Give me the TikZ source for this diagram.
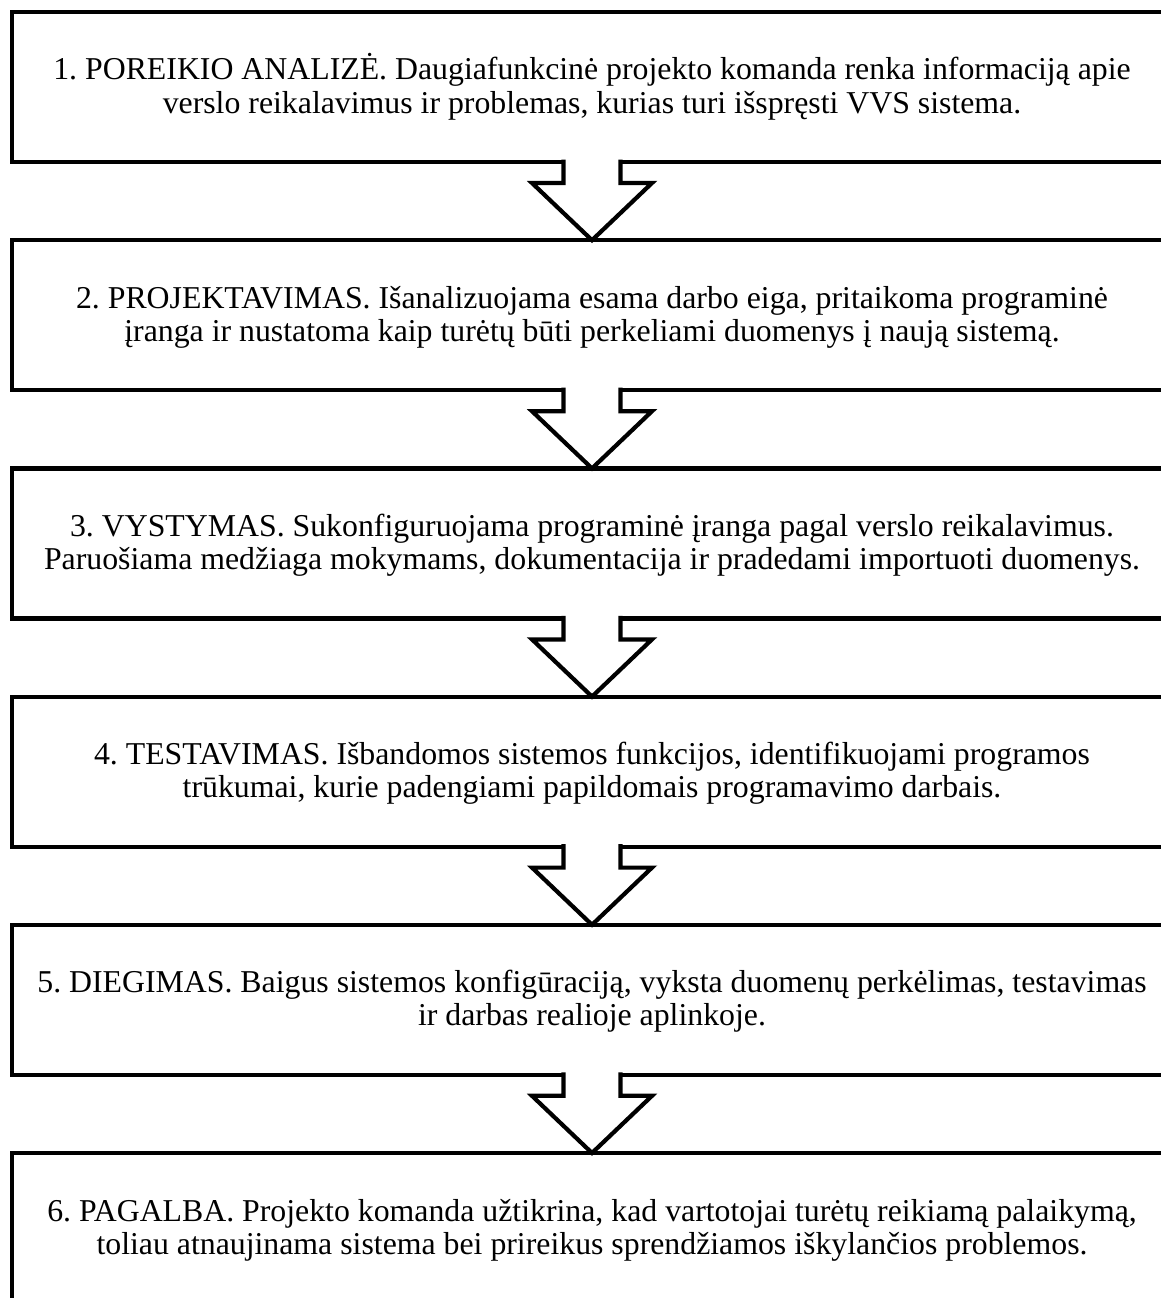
\documentclass[tikz,border=0pt]{standalone}
\usepackage{fontspec}
\setmainfont{Liberation Serif}
\usetikzlibrary{calc}
\frenchspacing
\begin{document}
\begin{tikzpicture}[x=1pt,y=-1pt,
  stage/.style={draw, line width=4.2pt, minimum width=1160pt, minimum height=150pt,
    outer sep=0pt, inner sep=0pt},
  stagetext/.style={anchor=base, align=center, inner sep=0pt,
    font=\fontsize{31.8}{33}\selectfont},
  flow/.style={draw, fill=white, line width=4.2pt, line join=miter}]
\useasboundingbox (0,0) rectangle (1161,1298);
\clip (0,0) rectangle (1161,1298);

% stage frames (they run past the right and bottom page edges)
\node[stage] (b1) at (592,87) {};
\node[stage] (b2) at (592,315.2) {};
\node[stage] (b3) at (592,543.4) {};
\node[stage] (b4) at (592,771.6) {};
\node[stage] (b5) at (592,999.8) {};
\node[stage] (b6) at (592,1228) {};

% stage descriptions (base anchor sits on the second line)
\node[stagetext] (t1) at ($(b1.north)+(0,101)$)
  {1. POREIKIO ANALIZĖ. Daugiafunkcinė projekto komanda renka informaciją apie\\
   verslo reikalavimus ir problemas, kurias turi išspręsti VVS sistema.};
\node[stagetext] (t2) at ($(b2.north)+(0,101)$)
  {2. PROJEKTAVIMAS. Išanalizuojama esama darbo eiga, pritaikoma programinė\\
   įranga ir nustatoma kaip turėtų būti perkeliami duomenys į naują sistemą.};
\node[stagetext] (t3) at ($(b3.north)+(0,101)$)
  {3. VYSTYMAS. Sukonfiguruojama programinė įranga pagal verslo reikalavimus.\\
   Paruošiama medžiaga mokymams, dokumentacija ir pradedami importuoti duomenys.};
\node[stagetext] (t4) at ($(b4.north)+(0,101)$)
  {4. TESTAVIMAS. Išbandomos sistemos funkcijos, identifikuojami programos\\
   trūkumai, kurie padengiami papildomais programavimo darbais.};
\node[stagetext] (t5) at ($(b5.north)+(0,101)$)
  {5. DIEGIMAS. Baigus sistemos konfigūraciją, vyksta duomenų perkėlimas, testavimas\\
   ir darbas realioje aplinkoje.};
\node[stagetext] (t6) at ($(b6.north)+(0,101)$)
  {6. PAGALBA. Projekto komanda užtikrina, kad vartotojai turėtų reikiamą palaikymą,\\
   toliau atnaujinama sistema bei prireikus sprendžiamos iškylančios problemos.};

% hollow block arrows between consecutive stages
\foreach \a/\b in {b1/b2, b2/b3, b3/b4, b4/b5, b5/b6}
  \filldraw[flow]
    ($(\a.south)+(-28.5,-2.5)$) -- ($(\a.south)+(-28.5,21)$)
    -- ($(\a.south)+(-60,21)$) -- (\b.north)
    -- ($(\a.south)+(60,21)$) -- ($(\a.south)+(28.5,21)$)
    -- ($(\a.south)+(28.5,-2.5)$);
\end{tikzpicture}
\end{document}
